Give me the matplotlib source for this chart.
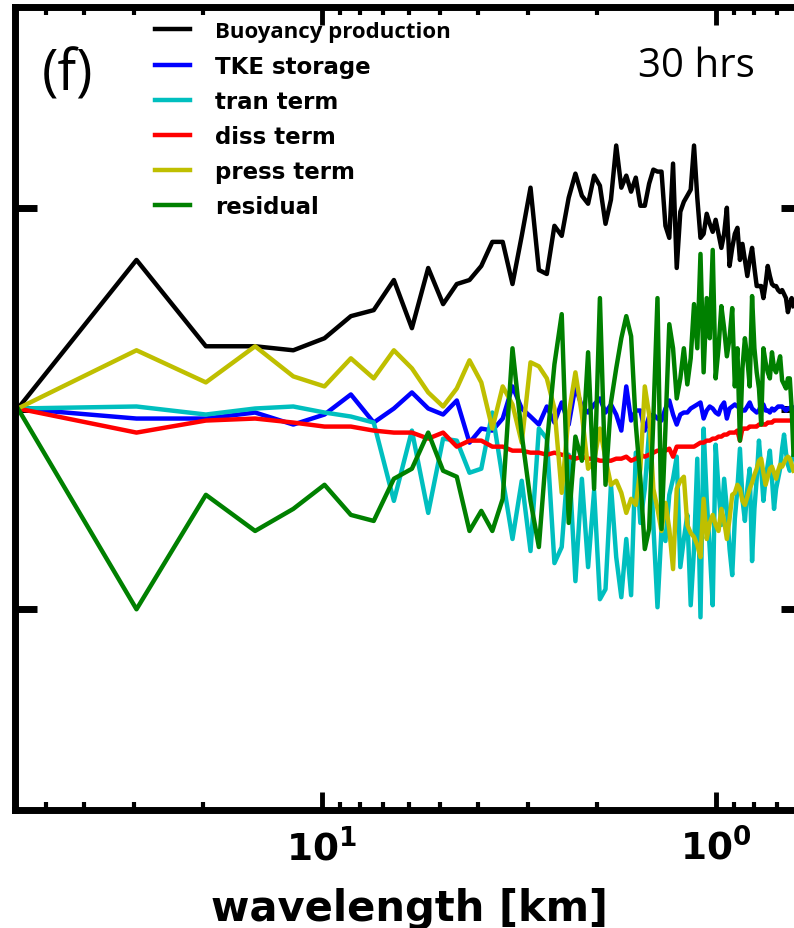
import numpy as np
import matplotlib
matplotlib.use("Agg")
import matplotlib.pyplot as plt
from matplotlib.ticker import FuncFormatter, NullFormatter, LogLocator

# spectral budget terms vs wavelength (domain ~59 km, wavenumber index k)
k = np.arange(1, 94)
wavelength = 59.0 / k

buoyancy = [0, 0.74, 0.31, 0.31, 0.29, 0.35, 0.46, 0.49, 0.64, 0.40,
            0.70, 0.52, 0.62, 0.64, 0.71, 0.83, 0.83, 0.62, 0.86, 1.10,
            0.69, 0.67, 0.91, 0.86, 1.05, 1.17, 1.06, 1.02, 1.16, 1.11,
            0.92, 1.04, 1.31, 1.10, 1.16, 1.08, 1.15, 1.01, 1.01, 1.12,
            1.19, 1.18, 1.18, 0.91, 0.85, 1.22, 0.70, 0.98, 1.03, 1.06,
            1.09, 1.31, 1.05, 0.85, 0.87, 0.97, 0.92, 0.88, 0.94, 0.87,
            0.80, 0.87, 1.00, 0.71, 0.80, 0.87, 0.90, 0.74, 0.82, 0.74,
            0.66, 0.74, 0.80, 0.70, 0.61, 0.61, 0.61, 0.55, 0.62, 0.71,
            0.66, 0.62, 0.61, 0.61, 0.59, 0.58, 0.59, 0.57, 0.55, 0.48,
            0.52, 0.55, 0.51]

storage = [0, -0.05, -0.05, -0.02, -0.08, -0.03, 0.07, -0.07, 0.0, 0.08,
           0.0, -0.03, 0.04, -0.17, -0.10, -0.11, -0.05, 0.11, 0.0, -0.04,
           -0.08, 0.01, -0.07, 0.03, -0.08, 0.11, 0.01, -0.02, 0.02, 0.05,
           -0.02, 0.02, -0.03, -0.11, 0.11, -0.06, -0.01, -0.01, -0.11, -0.04,
           -0.03, -0.05, -0.06, 0.0, 0.04, -0.03, -0.08, -0.03, -0.02, -0.02,
           0.0, 0.01, 0.02, 0.03, -0.05, -0.01, 0.01, 0.0, -0.02, -0.03,
           0.01, 0.03, -0.05, 0.0, 0.01, 0.02, 0.01, 0.01, -0.01, -0.01,
           0.01, 0.03, 0.0, -0.01, -0.02, -0.01, 0.02, 0.02, -0.01, -0.01,
           -0.02, 0.0, -0.01, 0.0, 0.01, 0.01, 0.01, 0.0, -0.01, 0.0,
           0.0, 0.01, 0.0]

tran = [0, 0.01, -0.03, 0.0, 0.01, -0.02, -0.04, -0.07, -0.46, -0.11,
        -0.52, -0.15, -0.16, -0.32, -0.30, -0.02, -0.35, -0.65, -0.36, -0.71,
        -0.10, -0.15, -0.77, -0.69, -0.23, -0.86, -0.35, -0.79, -0.41, -0.95,
        -0.90, -0.38, -0.74, -0.94, -0.65, -0.93, -0.22, -0.57, -0.40, -0.11,
        -0.58, -0.99, -0.60, -0.66, -0.43, -0.35, -0.24, -0.79, -0.65, -0.53,
        -0.98, -0.70, -0.25, -1.04, -0.10, -0.45, -0.70, -0.98, -0.18, -0.40,
        -0.58, -0.35, -0.50, -0.70, -0.83, -0.55, -0.40, -0.20, -0.45, -0.56,
        -0.40, -0.30, -0.76, -0.50, -0.35, -0.16, -0.30, -0.46, -0.35, -0.28,
        -0.21, -0.35, -0.50, -0.40, -0.35, -0.30, -0.20, -0.13, -0.22, -0.28,
        -0.31, -0.26, -0.23]

diss = [0, -0.12, -0.06, -0.05, -0.07, -0.09, -0.09, -0.11, -0.12, -0.12,
        -0.15, -0.12, -0.19, -0.16, -0.16, -0.19, -0.19, -0.21, -0.21, -0.22,
        -0.22, -0.23, -0.22, -0.23, -0.24, -0.25, -0.24, -0.25, -0.25, -0.26,
        -0.26, -0.26, -0.25, -0.25, -0.24, -0.26, -0.25, -0.23, -0.24, -0.23,
        -0.22, -0.21, -0.21, -0.21, -0.20, -0.24, -0.19, -0.19, -0.19, -0.19,
        -0.19, -0.19, -0.18, -0.17, -0.17, -0.16, -0.16, -0.15, -0.15, -0.14,
        -0.14, -0.13, -0.13, -0.12, -0.12, -0.12, -0.11, -0.16, -0.10, -0.10,
        -0.10, -0.09, -0.09, -0.09, -0.09, -0.08, -0.08, -0.08, -0.08, -0.07,
        -0.07, -0.07, -0.06, -0.06, -0.06, -0.06, -0.06, -0.06, -0.06, -0.06,
        -0.06, -0.06, -0.06]

press = [0, 0.29, 0.13, 0.31, 0.16, 0.11, 0.25, 0.15, 0.29, 0.20,
         0.08, 0.01, 0.10, 0.24, 0.13, -0.10, 0.11, 0.02, -0.17, 0.23,
         0.21, 0.15, 0.0, -0.42, -0.03, 0.18, -0.03, -0.30, -0.26, -0.10,
         -0.25, -0.38, -0.36, -0.42, -0.52, -0.45, -0.48, -0.30, 0.11, -0.03,
         -0.40, -0.50, -0.61, -0.47, -0.60, -0.80, -0.40, -0.36, -0.34, -0.58,
         -0.62, -0.64, -0.68, -0.74, -0.45, -0.65, -0.57, -0.53, -0.58, -0.61,
         -0.50, -0.56, -0.65, -0.55, -0.43, -0.42, -0.38, -0.40, -0.46, -0.48,
         -0.44, -0.40, -0.37, -0.33, -0.30, -0.26, -0.25, -0.32, -0.38, -0.34,
         -0.30, -0.29, -0.32, -0.35, -0.31, -0.28, -0.29, -0.27, -0.25, -0.24,
         -0.25, -0.28, -0.31]

residual = [0, -1.00, -0.43, -0.61, -0.50, -0.38, -0.53, -0.56, -0.35, -0.30,
            -0.12, -0.31, -0.34, -0.61, -0.51, -0.61, -0.45, 0.30, -0.13, -0.46,
            -0.69, -0.18, 0.22, 0.47, -0.57, -0.14, -0.26, 0.28, -0.40, 0.55,
            -0.38, 0.03, 0.20, 0.35, 0.46, 0.36, -0.08, -0.35, -0.70, -0.60,
            -0.05, 0.55, -0.60, -0.10, 0.42, 0.30, 0.05, 0.15, 0.30, 0.12,
            0.25, 0.52, 0.30, 0.77, 0.18, 0.55, 0.35, 0.79, 0.15, 0.30,
            0.51, 0.40, 0.26, 0.35, 0.50, 0.11, 0.30, -0.16, 0.20, 0.35,
            0.25, 0.11, 0.56, 0.30, 0.18, 0.10, -0.08, 0.30, 0.23, 0.18,
            0.15, 0.28, 0.20, 0.18, 0.22, 0.26, 0.14, 0.12, 0.10, 0.15,
            0.15, 0.0, -0.23]

labels = ["Buoyancy production", "TKE storage", "tran term",
          "diss term", "press term", "residual"]
colors = ["k", "b", "c", "r", "y", "g"]
series = [buoyancy, storage, tran, diss, press, residual]

fig = plt.figure(figsize=(7.94, 9.29), dpi=100)
# axes runs a little past the right edge of the picture (cropped panel)
ax = fig.add_axes([0.0189, 0.127, 0.9925, 0.8644])

for y, c, lab in zip(series, colors, labels):
    ax.plot(wavelength, y, color=c, lw=3.2, label=lab)

ax.set_xscale("log")
ax.set_xlim(60, 0.6)
ax.set_ylim(-2, 2)
ax.set_yticks([-1, 0, 1])
ax.set_yticklabels([])

ax.xaxis.set_major_locator(LogLocator(base=10))
ax.xaxis.set_minor_locator(LogLocator(base=10, subs=np.arange(2, 10)))
ax.xaxis.set_major_formatter(FuncFormatter(lambda v, p: r"$\mathbf{10^{%d}}$" % round(np.log10(v))))
ax.xaxis.set_minor_formatter(NullFormatter())

for s in ax.spines.values():
    s.set_linewidth(5)
ax.tick_params(axis="both", which="both", direction="in", top=True, right=True)
ax.tick_params(axis="x", which="major", length=13, width=3.5, labelsize=27, pad=13)
ax.tick_params(axis="x", which="minor", length=6, width=3)
ax.tick_params(axis="y", which="major", length=16, width=5)

ax.set_xlabel("wavelength [km]", fontsize=30, fontweight="bold", labelpad=14)

leg = ax.legend(loc="upper left", bbox_to_anchor=(0.178, 0.982), frameon=False,
                prop={"size": 16.5, "weight": "bold"}, handlelength=1.5,
                handletextpad=1.1, labelspacing=0.53, borderpad=0, borderaxespad=0)
t0 = leg.get_texts()[0]
t0.set_fontfamily("Open Sans")
t0.set_fontsize(16)
t0.set_fontweight("bold")

fig.text(0.053, 0.903, "(f)", fontsize=40, family="Open Sans")
fig.text(0.8035, 0.917, "30 hrs", fontsize=29, family="Open Sans")

fig.savefig("out.png", dpi=100)
